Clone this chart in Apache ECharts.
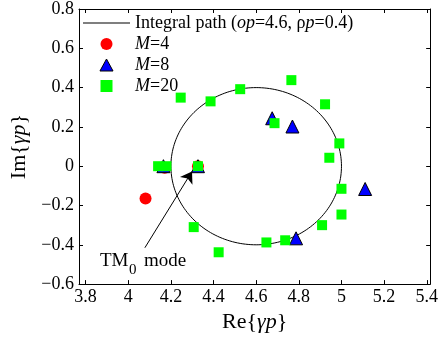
<!DOCTYPE html>
<html>
<head>
<meta charset="utf-8">
<script src="https://cdn.jsdelivr.net/npm/echarts@6/dist/echarts.min.js"></script>
<style>
  html, body { margin: 0; padding: 0; background: #fff; }
  #main { width: 441px; height: 338px; }
</style>
</head>
<body>
<div id="main"></div>
<script>
// tick labels
var xTicks = [3.8, 4, 4.2, 4.4, 4.6, 4.8, 5, 5.2, 5.4];
var yTicks = [-0.6, -0.4, -0.2, 0, 0.2, 0.4, 0.6, 0.8];

// integral path: centre (op) and radius (rho p)
var pathCircle = [[4.6, 0, 0.4]];

// M=4 (red circles)
var m4Data = [[4.081, -0.164], [4.171, -0.008], [4.327, 0]];
// M=8 (blue triangles)
var m8Data = [[4.165, 0], [4.327, 0], [4.675, 0.244], [4.770, 0.202], [5.111, -0.116], [4.787, -0.367]];
// M=20 (green squares)
var m20Data = [
    [4.140, 0], [4.179, 0], [4.327, 0],
    [4.246, 0.349], [4.386, 0.330], [4.525, 0.392], [4.765, 0.438],
    [4.923, 0.315], [4.686, 0.219], [4.990, 0.116], [4.943, 0.043],
    [5.000, -0.115], [5.000, -0.246], [4.909, -0.300], [4.736, -0.377],
    [4.648, -0.388], [4.307, -0.310], [4.424, -0.438]
];

var serif = '"Liberation Serif", serif';
var tickFont = 18;

function fmtTick(v) {
    v = Math.round(v * 10) / 10;
    var s = v < 0 ? '\u2212' + (-v) : String(v);
    return '{t|' + s + '}';
}

function makeAxis(pos, ticks, isX, showLabel) {
    return {
        type: 'value',
        position: pos,
        min: isX ? 3.769 : -0.6,
        max: isX ? 5.416 : 0.8,
        splitLine: { show: false },
        axisLine: { show: true, onZero: false, lineStyle: { color: '#000', width: 1 } },
        axisTick: {
            show: true, inside: true, length: 4,
            customValues: ticks,
            lineStyle: { color: '#000', width: 1 }
        },
        axisLabel: {
            show: showLabel,
            customValues: ticks,
            margin: isX ? 4 : 5,
            color: '#000',
            fontFamily: serif,
            fontSize: tickFont,
            rich: { t: { fontFamily: serif, fontSize: tickFont, color: '#000' } },
            formatter: fmtTick
        }
    };
}

var xBottom = makeAxis('bottom', xTicks, true, true);
xBottom.name = 'Re{{i|γp}}';
xBottom.nameLocation = 'middle';
xBottom.nameGap = 22;
xBottom.nameTextStyle = {
    color: '#000', fontFamily: serif, fontSize: 22, verticalAlign: 'top',
    rich: { i: { fontFamily: serif, fontSize: 22, fontStyle: 'italic', color: '#000' } }
};
var yLeft = makeAxis('left', yTicks, false, true);
yLeft.name = 'Im{{i|γp}}';
yLeft.nameLocation = 'middle';
yLeft.nameGap = 49;
yLeft.nameTextStyle = {
    color: '#000', fontFamily: serif, fontSize: 22,
    rich: { i: { fontFamily: serif, fontSize: 22, fontStyle: 'italic', color: '#000' } }
};

var legendNames = {
    'Integral path': 'Integral path ({i|op}=4.6, ρ{i|p}=0.4)',
    'M=4': '{i|M}=4',
    'M=8': '{i|M}=8',
    'M=20': '{i|M}=20'
};

var myChart = echarts.init(document.getElementById('main'));
var option = {
    animation: false,
    backgroundColor: '#fff',
    textStyle: { fontFamily: serif, color: '#000' },
    grid: { left: 78, right: 9, top: 7, bottom: 50 },
    xAxis: [xBottom, makeAxis('top', xTicks, true, false)],
    yAxis: [yLeft, makeAxis('right', yTicks, false, false)],
    legend: {
        orient: 'vertical',
        left: 83,
        top: 14,
        padding: 0,
        itemWidth: 47,
        itemHeight: 12,
        itemGap: 3,
        symbolKeepAspect: true,
        selectedMode: false,
        textStyle: {
            color: '#000', fontFamily: serif, fontSize: 18,
            rich: { i: { fontFamily: serif, fontSize: 18, fontStyle: 'italic', color: '#000' } }
        },
        formatter: function (name) { return legendNames[name]; },
        data: [
            { name: 'Integral path', icon: 'path://M0,0h47v1h-47z' },
            { name: 'M=4', icon: 'circle' },
            { name: 'M=8', icon: 'path://M6,0L12,11L0,11Z', itemStyle: { borderColor: '#000', borderWidth: 1 } },
            { name: 'M=20', icon: 'path://M0,0h10v10h-10z' }
        ]
    },
    graphic: [
        { type: 'text', left: 100, top: 252, style: { text: 'TM', font: '19px "Liberation Serif"', fill: '#000' } },
        { type: 'text', left: 129, top: 263, style: { text: '0', font: '15px "Liberation Serif"', fill: '#000' } },
        { type: 'text', left: 144, top: 252, style: { text: 'mode', font: '19px "Liberation Serif"', fill: '#000' } }
    ],
    series: [
        {
            name: 'Integral path',
            type: 'custom',
            itemStyle: { color: '#000' },
            data: pathCircle,
            renderItem: function (params, api) {
                var cx = api.value(0), cy = api.value(1), r = api.value(2);
                var pts = [];
                for (var k = 0; k <= 200; k++) {
                    var a = k / 200 * 2 * Math.PI;
                    pts.push(api.coord([cx + r * Math.cos(a), cy + r * Math.sin(a)]));
                }
                return {
                    type: 'polyline',
                    shape: { points: pts },
                    style: { stroke: '#000', fill: null, lineWidth: 1 }
                };
            }
        },
        {
            name: 'M=4',
            type: 'scatter',
            symbol: 'circle',
            symbolSize: 12,
            symbolKeepAspect: true,
            itemStyle: { color: '#ff0000', opacity: 1 },
            data: m4Data,
            markLine: {
                silent: true,
                symbol: ['none', 'arrow'],
                symbolSize: 11,
                label: { show: false },
                lineStyle: { color: '#000', width: 1, type: 'solid' },
                data: [[{ coord: [4.078, -0.415] }, { coord: [4.299, -0.027] }]]
            }
        },
        {
            name: 'M=8',
            type: 'scatter',
            symbol: 'triangle',
            symbolSize: 13,
            symbolKeepAspect: true,
            itemStyle: { color: '#0000ff', borderColor: '#000', borderWidth: 1, opacity: 1 },
            data: m8Data
        },
        {
            name: 'M=20',
            type: 'scatter',
            symbol: 'rect',
            symbolSize: 10,
            symbolKeepAspect: true,
            itemStyle: { color: '#00ff00', opacity: 1 },
            data: m20Data
        }
    ]
};
myChart.setOption(option);
</script>
</body>
</html>
